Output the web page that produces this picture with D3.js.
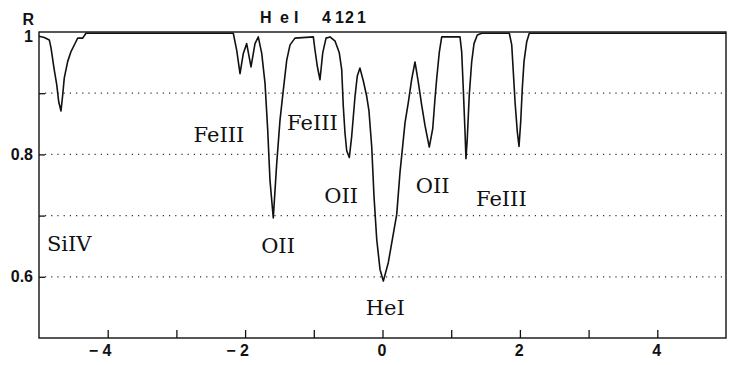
<!DOCTYPE html>
<html>
<head>
<meta charset="utf-8">
<script src="https://cdn.jsdelivr.net/npm/d3@7"></script>
<style>
  body { margin: 0; background: #fff; }
  .grid { stroke: #333; stroke-width: 1.2; stroke-dasharray: 1.2,5; }
  .frame { fill: none; stroke: #111; stroke-width: 1.4; }
  .spectrum { fill: none; stroke: #111; stroke-width: 1.6; stroke-linejoin: round; }
  .tickLabel { font-family: "Liberation Sans Narrow", "Liberation Sans", Arial, sans-serif; font-weight: bold; font-size: 16px; fill: #111; }
  .ionLabel { font-family: "DejaVu Serif", serif; font-size: 21px; fill: #111; }
</style>
</head>
<body>
<div id="chart"></div>
<script>
// Chart data

// wavelength offset from He I 4121 (x) and residual intensity R (y)
var waveOffset = [
  -5.0, -4.923, -4.85, -4.825, -4.782, -4.742, -4.713, -4.68, -4.655, -4.632,
  -4.582, -4.534, -4.472, -4.437, -4.364, -4.316,
  -2.172, -2.122, -2.074, -2.026, -1.977, -1.914, -1.856, -1.808, -1.758, -1.710,
  -1.671, -1.638, -1.590, -1.540, -1.492, -1.444, -1.394, -1.346, -1.274,
  -1.007, -0.983, -0.949, -0.910, -0.870, -0.822, -0.764, -0.690, -0.629, -0.594,
  -0.571, -0.546, -0.521, -0.483, -0.448, -0.400, -0.367, -0.328, -0.279, -0.230,
  -0.197, -0.157, -0.124, -0.084, -0.036, 0.012, 0.084, 0.207, 0.255, 0.294,
  0.328, 0.376, 0.425, 0.473, 0.521, 0.571, 0.619, 0.681, 0.731, 0.764,
  0.789, 0.827, 0.862, 1.128, 1.153, 1.176, 1.201, 1.215, 1.234, 1.263,
  1.298, 1.332, 1.380, 1.444,
  1.846, 1.881, 1.904, 1.929, 1.962, 1.987, 2.012, 2.035, 2.060, 2.099,
  2.137, 5.0
];
var residual = [
  0.993, 0.991, 0.987, 0.974, 0.941, 0.914, 0.886, 0.871, 0.897, 0.925,
  0.952, 0.968, 0.982, 0.990, 0.990, 0.998,
  0.998, 0.970, 0.932, 0.965, 0.981, 0.943, 0.981, 0.992, 0.965, 0.916,
  0.840, 0.758, 0.696, 0.785, 0.856, 0.905, 0.954, 0.979, 0.990,
  0.992, 0.971, 0.944, 0.922, 0.966, 0.990, 0.992, 0.985, 0.966, 0.939,
  0.879, 0.835, 0.806, 0.795, 0.830, 0.895, 0.928, 0.941, 0.920, 0.895,
  0.871, 0.813, 0.732, 0.661, 0.612, 0.593, 0.623, 0.702, 0.771, 0.814,
  0.852, 0.885, 0.923, 0.951, 0.918, 0.880, 0.847, 0.812, 0.842, 0.891,
  0.924, 0.967, 0.992, 0.992, 0.967, 0.907, 0.837, 0.793, 0.826, 0.897,
  0.951, 0.981, 0.995, 0.998,
  0.998, 0.979, 0.935, 0.886, 0.837, 0.813, 0.854, 0.908, 0.952, 0.984,
  0.998, 0.998
];

var xTicks = [-4, -3, -2, -1, 0, 1, 2, 3, 4];
var xTickLabels = [-4, -2, 0, 2, 4];
var yGrid = [0.6, 0.7, 0.8, 0.9];
var yTickLabels = [0.6, 0.8];

// line identifications: name, centre offset, R level of text baseline
var ionNames = ["SiIV", "FeIII", "FeIII", "OII", "OII", "HeI", "OII", "FeIII"];
var ionX = [-4.56, -2.38, -1.02, -1.52, -0.60, 0.04, 0.73, 1.73];
var ionR = [0.642, 0.820, 0.840, 0.639, 0.721, 0.538, 0.737, 0.716];

// Layout

var width = 732,
    height = 365,
    margin = {top: 32, right: 6, bottom: 27, left: 39};

var innerW = width - margin.left - margin.right,
    innerH = height - margin.top - margin.bottom;

var x = d3.scaleLinear()
    .domain([-5, 5])
    .range([0, innerW]);

var y = d3.scaleLinear()
    .domain([0.5, 1.0])
    .range([innerH, 0]);

var svg = d3.select("#chart").append("svg")
    .attr("width", width)
    .attr("height", height);

var g = svg.append("g")
    .attr("transform", "translate(" + margin.left + "," + margin.top + ")");

// dotted gridlines
g.selectAll(".grid")
    .data(yGrid)
  .enter().append("line")
    .attr("class", "grid")
    .attr("x1", 6)
    .attr("x2", innerW)
    .attr("y1", function(d) { return y(d); })
    .attr("y2", function(d) { return y(d); });

// left ticks (inside)
g.append("g")
    .call(d3.axisRight(y).tickValues(yGrid).tickSize(6).tickFormat(""))
    .call(function(a) { a.select(".domain").remove(); })
    .selectAll("line").attr("stroke", "#111").attr("stroke-width", 1.3);

// bottom ticks (inside)
g.append("g")
    .attr("transform", "translate(0," + innerH + ")")
    .call(d3.axisTop(x).tickValues(xTicks).tickSize(8).tickFormat(""))
    .call(function(a) { a.select(".domain").remove(); })
    .selectAll("line").attr("stroke", "#111").attr("stroke-width", 1.3);

// frame
g.append("rect")
    .attr("class", "frame")
    .attr("x", 0)
    .attr("y", 0)
    .attr("width", innerW)
    .attr("height", innerH);

// spectrum
var line = d3.line()
    .x(function(d) { return x(d[0]); })
    .y(function(d) { return y(d[1]); });

g.append("path")
    .datum(d3.zip(waveOffset, residual))
    .attr("class", "spectrum")
    .attr("d", line);

// x tick labels
g.selectAll(".xlab")
    .data(xTickLabels)
  .enter().append("text")
    .attr("class", "tickLabel")
    .attr("text-anchor", "end")
    .attr("x", function(d) { return x(d) + 3.8; })
    .attr("y", innerH + 18)
    .text(function(d) { return d < 0 ? "\u2212 " + Math.abs(d) : d; });

// y tick labels
g.selectAll(".ylab")
    .data(yTickLabels)
  .enter().append("text")
    .attr("class", "tickLabel")
    .attr("text-anchor", "end")
    .attr("x", -6)
    .attr("y", function(d) { return y(d) + 5.5; })
    .text(function(d) { return d3.format(".1f")(d); });

g.append("text")
    .attr("class", "tickLabel")
    .attr("font-size", "14px")
    .attr("text-anchor", "end")
    .attr("x", -5)
    .attr("y", -7)
    .text("R");

g.append("text")
    .attr("class", "tickLabel")
    .attr("font-size", "14px")
    .attr("text-anchor", "end")
    .attr("x", -6)
    .attr("y", 10)
    .text("1");

// title
var title = svg.append("text")
    .attr("class", "tickLabel")
    .attr("font-size", "14px")
    .attr("y", 23);
title.append("tspan").attr("x", "260 280").text("He");
title.append("tspan").attr("x", 294).text("I");
title.append("tspan").attr("x", "322 335 345 357").text("4121");

// ion labels
g.selectAll(".ionLabel")
    .data(ionNames)
  .enter().append("text")
    .attr("class", "ionLabel")
    .attr("text-anchor", "middle")
    .attr("x", function(d, i) { return x(ionX[i]); })
    .attr("y", function(d, i) { return y(ionR[i]); })
    .text(function(d) { return d; });
</script>
</body>
</html>
